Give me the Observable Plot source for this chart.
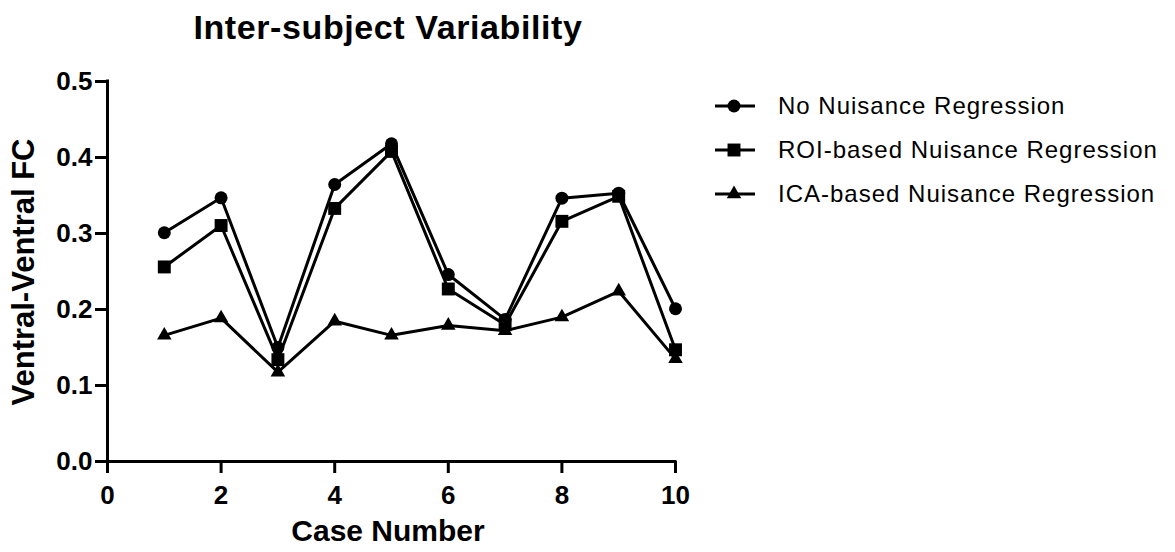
<!DOCTYPE html>
<html><head><meta charset="utf-8">
<script src="https://cdn.jsdelivr.net/npm/d3@7"></script>
<script src="https://cdn.jsdelivr.net/npm/@observablehq/plot@0.6"></script>
<style>
body{margin:0;background:#fff;font-family:"Liberation Sans",Arial,sans-serif;color:#000}
#wrap{position:relative;width:1175px;height:552px;overflow:hidden;background:#fff}
#chart{position:absolute;left:0;top:0}
#title{position:absolute;left:0;width:776px;text-align:center;top:8px;font-weight:bold;font-size:34px;letter-spacing:0.6px;white-space:nowrap}
#ylab{position:absolute;left:24px;top:272px;transform:translate(-50%,-50%) rotate(-90deg);font-weight:bold;font-size:31px;white-space:nowrap}
#xlab{position:absolute;left:388px;top:514px;transform:translateX(-50%);font-weight:bold;font-size:30px;white-space:nowrap}
#legend{position:absolute;left:712px;top:84px}
.row{display:flex;align-items:center;height:44px}
.row svg{margin-right:18px}
.row span{font-size:24px;letter-spacing:1px}
#chart svg g[aria-label="x-axis tick label"] text,#chart svg g[aria-label="y-axis tick label"] text{font-size:26px;font-weight:bold;font-family:"Liberation Sans",Arial,sans-serif}
</style></head>
<body>
<div id="wrap">
  <div id="chart"></div>
  <div id="title"></div>
  <div id="ylab"></div>
  <div id="xlab"></div>
  <div id="legend"></div>
</div>
<script>
const titleText = "Inter-subject Variability";
const xLabel = "Case Number";
const yLabel = "Ventral-Ventral FC";
const cases = [1,2,3,4,5,6,7,8,9,10];
const seriesNames = ["No Nuisance Regression","ROI-based Nuisance Regression","ICA-based Nuisance Regression"];
const seriesSymbols = ["circle","square","triangle"];
const seriesR = [6.5,7.3,5.4];
const noRegression  = [0.301,0.347,0.150,0.3645,0.418,0.246,0.187,0.3465,0.353,0.201];
const roiRegression = [0.256,0.3105,0.134,0.333,0.408,0.227,0.180,0.316,0.349,0.147];
const icaRegression = [0.166,0.1886,0.1175,0.1846,0.166,0.179,0.172,0.190,0.224,0.135];
const xTicks = [0,2,4,6,8,10];
const yTicks = [0,0.1,0.2,0.3,0.4,0.5];

const seriesValues = [noRegression, roiRegression, icaRegression];
const data = seriesNames.flatMap((s,i)=>cases.map((c,j)=>({series:s, idx:i, x:c, y:seriesValues[i][j]})));

const marks = [
  Plot.ruleY([0],{strokeWidth:3,strokeLinecap:"square"}),
  Plot.ruleX([0],{strokeWidth:3,strokeLinecap:"square"}),
  Plot.axisX({ticks:xTicks, tickSize:12, tickPadding:12, strokeWidth:3, label:null, tickFormat:d=>String(d)}),
  Plot.axisY({ticks:yTicks, tickSize:12, tickPadding:3, strokeWidth:3, label:null, tickFormat:d3.format(".1f")}),
];
seriesNames.forEach((s,i)=>{
  const d = data.filter(e=>e.idx===i);
  marks.push(Plot.line(d,{x:"x",y:"y",stroke:"black",strokeWidth:3}));
});
seriesNames.forEach((s,i)=>{
  const d = data.filter(e=>e.idx===i);
  marks.push(Plot.dot(d,{x:"x",y:"y",symbol:()=>seriesSymbols[i],r:seriesR[i],fill:"black",stroke:"none"}));
});

const chart = Plot.plot({
  width:1175, height:552,
  marginLeft:107, marginRight:500, marginTop:81, marginBottom:91,
  x:{domain:[0,10]},
  y:{domain:[0,0.5]},
  symbol:{type:"identity"},
  marks
});
document.getElementById("chart").appendChild(chart);
document.getElementById("title").textContent = titleText;
document.getElementById("xlab").textContent = xLabel;
document.getElementById("ylab").textContent = yLabel;

const leg = d3.select("#legend");
seriesNames.forEach((s,i)=>{
  const row = leg.append("div").attr("class","row");
  const svg = row.append("svg").attr("width",48).attr("height",20);
  svg.append("line").attr("x1",3).attr("x2",43).attr("y1",10).attr("y2",10).attr("stroke","black").attr("stroke-width",3);
  const sym = {circle:d3.symbolCircle,square:d3.symbolSquare,triangle:d3.symbolTriangle}[seriesSymbols[i]];
  svg.append("path").attr("transform","translate(22,10)").attr("d",d3.symbol(sym, Math.PI*seriesR[i]*seriesR[i])()).attr("fill","black");
  row.append("span").text(s);
});
</script>
</body></html>
